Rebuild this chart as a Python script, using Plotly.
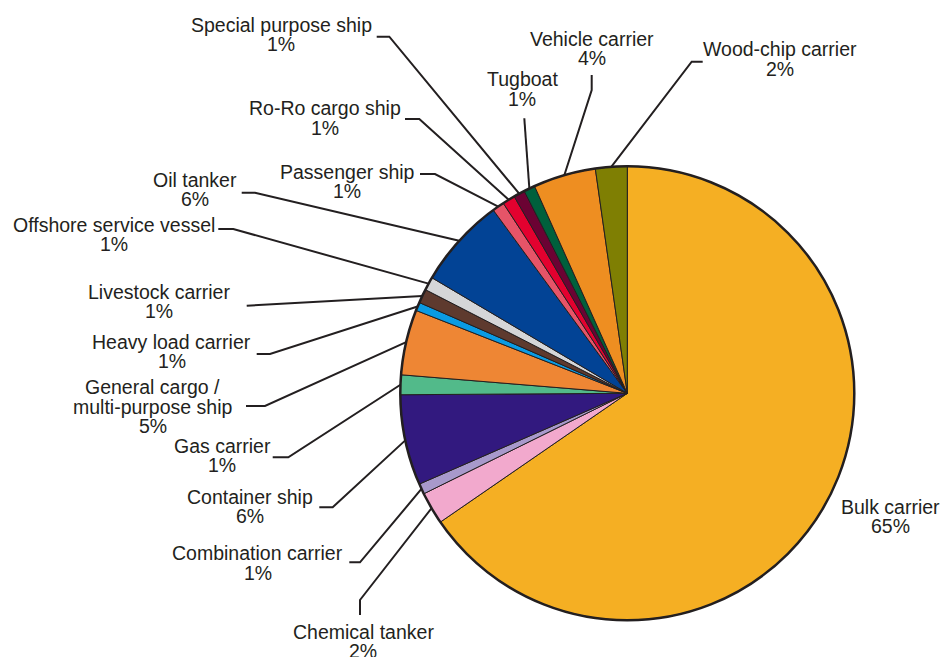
import math
import plotly.graph_objects as go

W, H = 941, 657

# Fleet composition by ship type (share of fleet, %)
categories = [
    "Bulk carrier", "Chemical tanker", "Combination carrier", "Container ship",
    "Gas carrier", "General cargo /\nmulti-purpose ship", "Heavy load carrier",
    "Livestock carrier", "Offshore service vessel", "Oil tanker", "Passenger ship",
    "Ro-Ro cargo ship", "Special purpose ship", "Tugboat", "Vehicle carrier",
    "Wood-chip carrier",
]
shares = [65.4, 2.3, 0.75, 6.45, 1.4, 4.65, 0.6, 1.0, 0.95, 6.45, 0.85, 0.9, 0.8, 0.8, 4.45, 2.25]
colors = [
    "#F5AF23", "#F2A9CD", "#A899CB", "#32197F", "#52BA8A", "#EE8634", "#0A9BE3",
    "#5E3A2E", "#D5D6D8", "#024395", "#E65468", "#E3012F", "#6B0233", "#00603C",
    "#EE8E21", "#7F7F03",
]

# Pie geometry in page pixels
CX, CY, R = 627.3, 393.3, 227.0
INK = "#231F20"
FS = 19.5
LINE_GAP = 19.4

# Label placement: text centre x, first baseline y, leader points from text side
label_layout = {
    "Bulk carrier": (890, 513.3, []),
    "Chemical tanker": (363, 638.3, [(360, 615), (360, 600)]),
    "Combination carrier": (257.5, 560, [(349.3, 562.3), (360, 562.3)]),
    "Container ship": (250, 503.3, [(319.3, 507.3), (332.7, 507.3)]),
    "Gas carrier": (222, 452.7, [(272.7, 457.3), (288.3, 457.3)]),
    "General cargo /\nmulti-purpose ship": (152.5, 394, [(246, 406), (265, 406)]),
    "Heavy load carrier": (171.7, 348.3, [(256.7, 354), (270, 354)]),
    "Livestock carrier": (158.8, 298.3, [(246.7, 305.7)]),
    "Offshore service vessel": (114, 231.7, [(218.3, 229), (233.3, 229)]),
    "Oil tanker": (195, 186.7, [(241.7, 192.7), (255, 192.7)]),
    "Passenger ship": (347, 178.3, [(420, 174), (435, 174)]),
    "Ro-Ro cargo ship": (325, 115, [(405, 119), (419.3, 119)]),
    "Special purpose ship": (281, 31.7, [(376.7, 36.7), (389.3, 36.7)]),
    "Tugboat": (522.3, 86, [(524.3, 118.3)]),
    "Vehicle carrier": (592, 45.7, [(591.7, 75), (591.7, 90)]),
    "Wood-chip carrier": (780.2, 56, [(702.7, 61.7), (691.7, 61.7)]),
}

dom_x = [(CX - R) / W, (CX + R) / W]
dom_y = [1 - (CY + R) / H, 1 - (CY - R) / H]

fig = go.Figure()

# Leader lines, ending at the rim at each slice's mid-angle
total = sum(shares)
cum = 0.0
for name, val in zip(categories, shares):
    mid = (cum + val / 2) / total * 2 * math.pi
    cum += val
    pts = label_layout[name][2]
    if not pts:
        continue
    ex = CX + R * math.sin(mid)
    ey = CY - R * math.cos(mid)
    xs = [p[0] for p in pts] + [ex]
    ys = [p[1] for p in pts] + [ey]
    fig.add_trace(go.Scatter(
        x=xs, y=ys, mode="lines", line=dict(color=INK, width=2),
        hoverinfo="skip", showlegend=False,
    ))

fig.add_trace(go.Pie(
    labels=categories, values=shares, sort=False, direction="clockwise", rotation=0,
    marker=dict(colors=colors, line=dict(color=INK, width=1)),
    textinfo="none", hoverinfo="label+percent", showlegend=False,
    domain=dict(x=dom_x, y=dom_y),
))
# Heavier outer rim
fig.add_trace(go.Pie(
    values=[1], labels=["rim"], sort=False,
    marker=dict(colors=["rgba(0,0,0,0)"], line=dict(color=INK, width=2.5)),
    textinfo="none", hoverinfo="skip", showlegend=False,
    domain=dict(x=dom_x, y=dom_y),
))

# Text labels: one annotation per line
annotations = []
for name, val in zip(categories, shares):
    tx, base, _ = label_layout[name]
    lines = name.split("\n") + [f"{round(val)}%"]
    for i, line in enumerate(lines):
        b = base + i * LINE_GAP
        annotations.append(dict(
            x=tx, y=b - 0.3465 * FS, xref="x", yref="y", text=line,
            showarrow=False, xanchor="center", yanchor="middle",
            font=dict(family="Liberation Sans, Arial, sans-serif", size=FS, color=INK),
            borderpad=0, borderwidth=0,
        ))

fig.update_layout(
    width=W, height=H,
    margin=dict(l=0, r=0, t=0, b=0),
    paper_bgcolor="white", plot_bgcolor="rgba(0,0,0,0)",
    xaxis=dict(range=[0, W], domain=[0, 1], visible=False, fixedrange=True),
    yaxis=dict(range=[H, 0], domain=[0, 1], visible=False, fixedrange=True),
    annotations=annotations,
)

fig.write_html("out.html")
